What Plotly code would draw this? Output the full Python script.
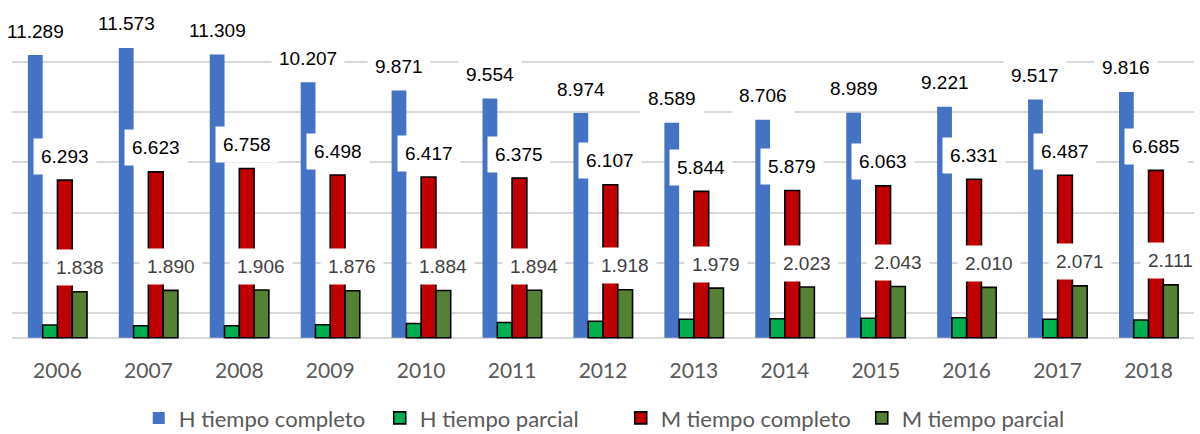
import plotly.graph_objects as go

years = [2006, 2007, 2008, 2009, 2010, 2011, 2012, 2013, 2014, 2015, 2016, 2017, 2018]
h_completo = [11289, 11573, 11309, 10207, 9871, 9554, 8974, 8589, 8706, 8989, 9221, 9517, 9816]
h_parcial = [505, 480, 480, 520, 570, 610, 660, 740, 760, 780, 800, 735, 705]
m_completo = [6293, 6623, 6758, 6498, 6417, 6375, 6107, 5844, 5879, 6063, 6331, 6487, 6685]
m_parcial = [1838, 1890, 1906, 1876, 1884, 1894, 1918, 1979, 2023, 2043, 2010, 2071, 2111]

names = ["H tiempo completo", "H tiempo parcial", "M tiempo completo", "M tiempo parcial"]
colors = ["#4472C4", "#00B050", "#C00000", "#548235"]
line_w = [0, 1.6, 1.6, 1.6]
series = [h_completo, h_parcial, m_completo, m_parcial]

BARGAP = 0.35
n = len(series)
bw = (1 - BARGAP) / n


def fmt(v):
    return f"{v:,}".replace(",", ".")


fig = go.Figure()
for name, col, lw, vals in zip(names, colors, line_w, series):
    fig.add_trace(go.Bar(
        x=years, y=vals, name=name,
        marker=dict(color=col, line=dict(color="#000000", width=lw)),
        hoverinfo="skip",
    ))

annotations = []
label_series = [(0, "#000000"), (2, "#000000"), (3, "#404040")]
for idx, fc in label_series:
    off = (idx - (n - 1) / 2) * bw
    for yr, v in zip(years, series[idx]):
        annotations.append(dict(
            x=yr + off, y=v, xref="x", yref="y",
            text=fmt(v), showarrow=False,
            yanchor="middle", xanchor="center", yshift=24,
            bgcolor="#FFFFFF", borderpad=7,
            font=dict(family="Liberation Sans, Arial", size=19, color=fc),
        ))

fig.update_layout(
    width=1200, height=434,
    barmode="group", bargap=BARGAP, bargroupgap=0,
    plot_bgcolor="#FFFFFF", paper_bgcolor="#FFFFFF",
    margin=dict(l=12, r=6, t=12, b=71, autoexpand=False),
    annotations=annotations,
    showlegend=True,
    legend=dict(
        orientation="h", x=0.515, xanchor="center", y=-0.157, yanchor="middle",
        font=dict(family="Lato", size=22, color="#595959"),
        traceorder="normal",
        entrywidthmode="pixels", entrywidth=196,
    ),
    xaxis=dict(
        tickmode="array", tickvals=years, ticktext=[str(y) for y in years],
        range=[years[0] - 0.5, years[-1] + 0.5],
        showgrid=False, zeroline=False, showline=False, ticks="",
        tickfont=dict(family="Lato", size=21, color="#595959"),
        ticklabelstandoff=-7,
    ),
    yaxis=dict(
        range=[-1010, 13010], tick0=-1000, dtick=2000,
        showgrid=True, gridcolor="#D9D9D9", gridwidth=1.5,
        zeroline=True, zerolinecolor="#D9D9D9", zerolinewidth=1.5,
        showticklabels=False, ticks="", showline=False,
    ),
)

fig.write_html(
    "out.html",
    config={"displayModeBar": False},
    post_script="document.body.style.margin='0px';document.body.style.overflow='hidden';",
)
